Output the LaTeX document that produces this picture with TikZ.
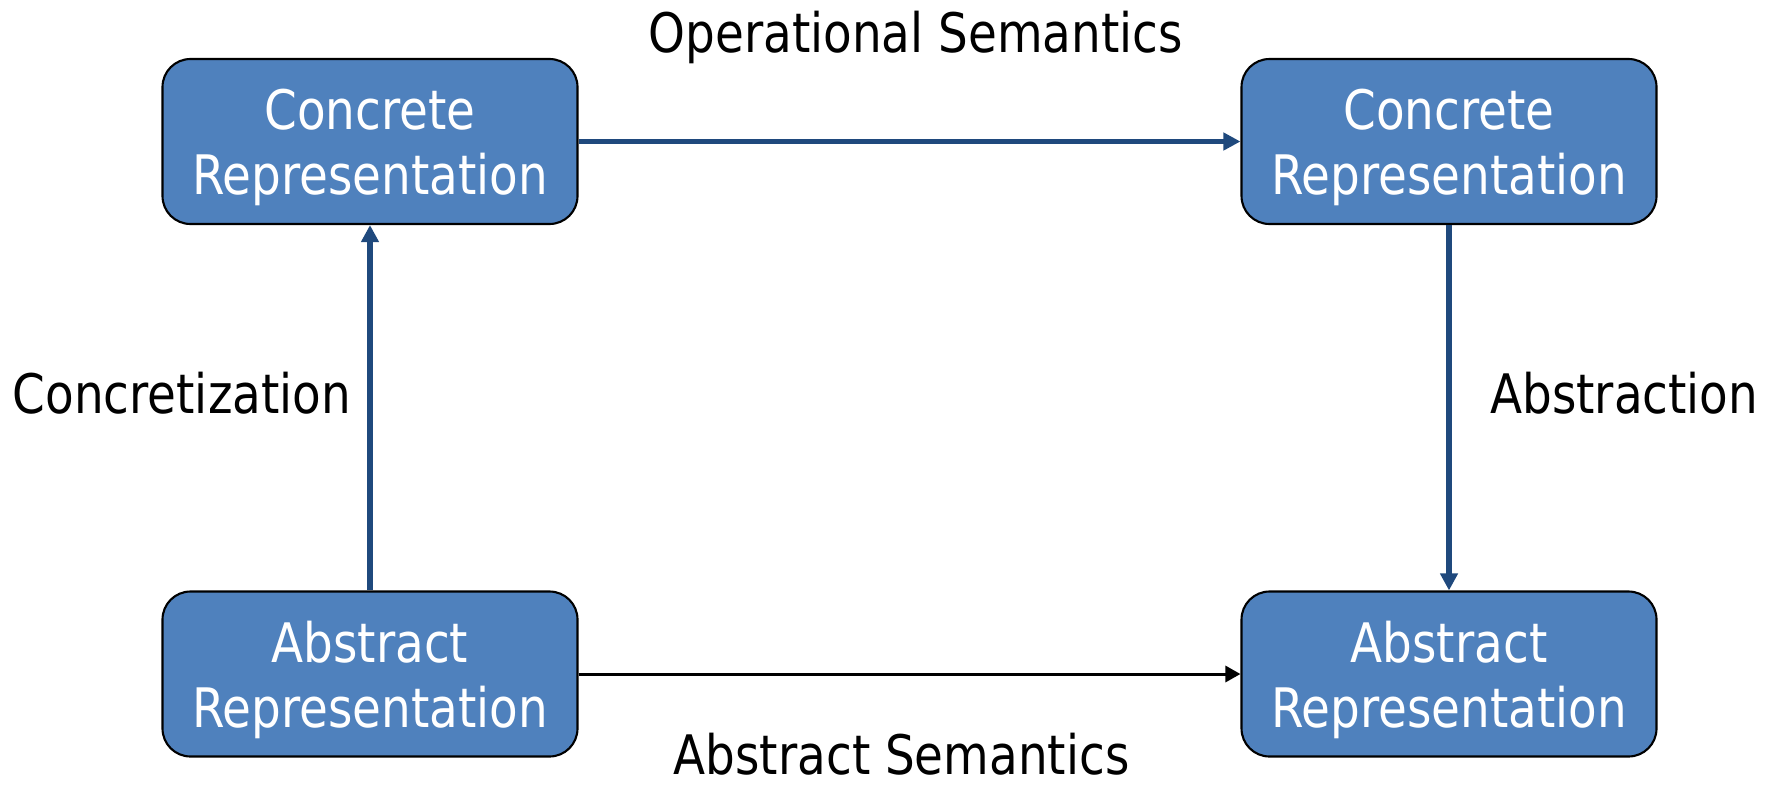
\documentclass[tikz,border=0pt]{standalone}
\usepackage{fontspec}
\setmainfont{DejaVu Sans}[FakeStretch=0.86]
\usetikzlibrary{arrows.meta}
\definecolor{boxblue}{RGB}{79,129,189}
\definecolor{arrowblue}{RGB}{31,73,125}
\begin{document}
\begin{tikzpicture}[line join=round,
 rep/.style={draw=black, line width=0.6pt, fill=boxblue, rounded corners=0.28cm,
  minimum width=4.15cm, minimum height=1.65cm, text=white, align=center,
  text depth=0pt, font=\fontsize{15.5}{18.5}\selectfont},
 lbl/.style={font=\fontsize{15.5}{18.5}\selectfont, inner sep=0pt},
 bluearrow/.style={draw=arrowblue, line width=1.7pt, -{Triangle[length=0.17cm,width=0.17cm]}},
 blackarrow/.style={draw=black, line width=0.85pt, -{Triangle[length=0.15cm,width=0.16cm]}}]
 \useasboundingbox (0,0) rectangle (17.7,7.84);
 % the four representations
 \node[rep] (concA) at (3.70,6.425) {Concrete\\Representation};
 \node[rep] (concB) at (14.49,6.425) {Concrete\\Representation};
 \node[rep] (absA) at (3.70,1.10) {Abstract\\Representation};
 \node[rep] (absB) at (14.49,1.10) {Abstract\\Representation};
 % labels
 \node[lbl, anchor=base west] (opsem) at (6.48,7.32) {Operational Semantics};
 \node[lbl, anchor=base west] (abssem) at (6.73,0.10) {Abstract Semantics};
 \node[lbl, anchor=base west] (concr) at (0.12,3.71) {Concretization};
 \node[lbl, anchor=base east] (abstr) at (17.59,3.71) {Abstraction};
 % connectors
 \draw[bluearrow] (concA.east) -- (concB.west);
 \draw[bluearrow] (absA.north) -- (concA.south);
 \draw[bluearrow] (concB.south) -- (absB.north);
 \draw[blackarrow] (absA.east) -- (absB.west);
\end{tikzpicture}
\end{document}
